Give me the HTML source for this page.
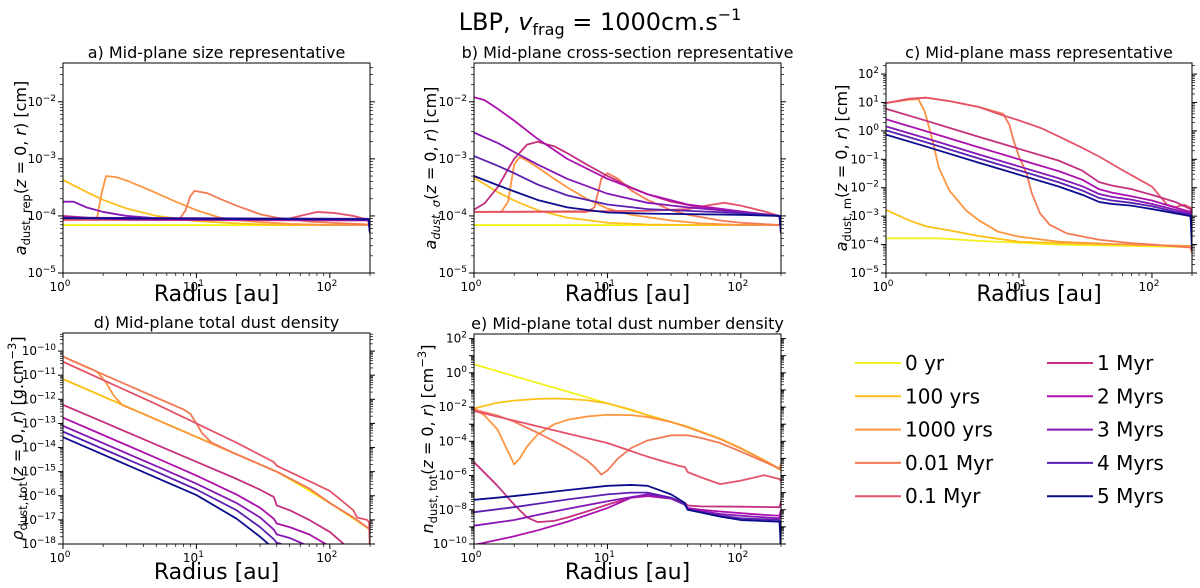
<!DOCTYPE html>
<html><head><meta charset="utf-8"><style>
html,body{margin:0;padding:0;background:#fff;}
svg{display:block;font-family:"DejaVu Sans","Liberation Sans",sans-serif;}
</style></head><body>
<svg id="fig" width="1200" height="588" viewBox="0 0 1200 588" xmlns="http://www.w3.org/2000/svg">
<text x="600" y="30" text-anchor="middle" font-size="24">LBP, <tspan font-style="italic">v</tspan><tspan font-size="16" dy="5">frag</tspan><tspan dy="-5"> = 1000cm.s</tspan><tspan font-size="16" dy="-10">−1</tspan></text>
</svg>
<script>
// ---- series labels and colours ----
const seriesLabels = ['0 yr','100 yrs','1000 yrs','0.01 Myr','0.1 Myr','1 Myr','2 Myrs','3 Myrs','4 Myrs','5 Myrs'];
const seriesColors = ['#f2f01e','#fcc01c','#fd9640','#f27a55','#e4536a','#c4307f','#ac10ad','#8616b5','#5a20b0','#0c0c8e'];
// ---- panel a: [radius au, log10 a] ----
const A0=[[1,-4.16],[195,-4.16],[200,-4.2]];
const A1=[[1,-3.37],[1.5,-3.58],[2,-3.72],[3,-3.87],[5,-4.0],[10,-4.09],[20,-4.13],[40,-4.16],[200,-4.16]];
const A2=[[1,-4.05],[1.8,-4.03],[1.95,-3.6],[2.1,-3.3],[2.5,-3.32],[3,-3.38],[4,-3.5],[5,-3.6],[7,-3.75],[10,-3.9],[15,-4.03],[20,-4.07],[30,-4.11],[50,-4.14],[100,-4.16],[200,-4.16]];
const A3=[[1,-4.05],[7.5,-4.05],[8.3,-3.9],[9,-3.65],[9.7,-3.56],[12,-3.6],[15,-3.7],[20,-3.82],[30,-3.97],[40,-4.03],[70,-4.1],[100,-4.12],[200,-4.15]];
const A4=[[1,-4.07],[45,-4.07],[60,-4.0],[80,-3.93],[110,-3.95],[150,-4.0],[195,-4.07],[200,-4.3]];
const A5=[[1,-4.0],[2,-4.05],[5,-4.07],[195,-4.08],[200,-4.3]];
const A6=[[1,-4.02],[3,-4.06],[195,-4.07],[200,-4.3]];
const A7=[[1,-3.75],[1.2,-3.75],[1.5,-3.85],[2,-3.93],[3,-4.0],[5,-4.04],[10,-4.05],[195,-4.07],[200,-4.3]];
const A8=[[1,-4.03],[195,-4.05],[200,-4.3]];
const A9=[[1,-4.04],[195,-4.06],[200,-4.3]];
// ---- panel b ----
const B0=[[1,-4.16],[200,-4.16]];
const B1=[[1,-3.33],[1.5,-3.58],[2,-3.73],[3,-3.9],[5,-4.03],[10,-4.12],[20,-4.15],[40,-4.16],[200,-4.16]];
const B2=[[1,-3.93],[1.6,-3.93],[1.8,-3.75],[2,-3.1],[2.2,-2.97],[2.5,-3.03],[3,-3.15],[4,-3.35],[5,-3.5],[7,-3.7],[10,-3.87],[15,-3.98],[20,-4.02],[30,-4.08],[50,-4.13],[100,-4.16],[200,-4.16]];
const B3=[[1,-3.93],[7,-3.93],[8,-3.85],[9,-3.35],[10,-3.25],[12,-3.35],[15,-3.55],[20,-3.72],[30,-3.9],[40,-3.98],[70,-4.08],[100,-4.12],[200,-4.16]];
const B4=[[1,-3.93],[20,-3.91],[40,-3.88],[55,-3.82],[75,-3.77],[100,-3.82],[150,-3.92],[195,-4.0],[200,-4.3]];
const B5=[[1,-3.89],[1.2,-3.78],[1.5,-3.5],[2,-3.0],[2.5,-2.75],[3,-2.7],[4,-2.78],[5,-2.9],[7,-3.1],[10,-3.3],[15,-3.5],[20,-3.62],[30,-3.75],[50,-3.85],[100,-3.94],[195,-4.0],[200,-4.3]];
const B6=[[1,-1.92],[1.2,-1.97],[1.5,-2.12],[2,-2.33],[3,-2.65],[5,-3.0],[10,-3.35],[20,-3.62],[40,-3.8],[100,-3.92],[195,-4.0],[200,-4.3]];
const B7=[[1,-2.54],[1.5,-2.72],[2,-2.88],[3,-3.1],[5,-3.35],[10,-3.61],[20,-3.77],[40,-3.85],[100,-3.93],[195,-4.0],[200,-4.3]];
const B8=[[1,-2.95],[1.5,-3.12],[2,-3.25],[3,-3.45],[5,-3.64],[10,-3.8],[20,-3.88],[50,-3.92],[100,-3.95],[195,-4.0],[200,-4.3]];
const B9=[[1,-3.3],[1.5,-3.46],[2,-3.57],[3,-3.72],[5,-3.85],[10,-3.94],[20,-3.96],[100,-3.98],[195,-4.0],[200,-4.3]];
// ---- panel c ----
const C0=[[1,-3.78],[2.5,-3.78],[5,-3.87],[20,-4.0],[195,-4.09],[200,-4.3]];
const C1=[[1,-2.78],[1.5,-3.15],[2,-3.36],[3,-3.5],[5,-3.7],[10,-3.9],[30,-3.97],[195,-4.05],[200,-4.3]];
const C2=[[1,0.98],[1.5,1.1],[1.75,1.12],[1.95,0.7],[2.2,-0.2],[2.5,-1.3],[3,-2.1],[4,-2.8],[5,-3.15],[7,-3.55],[10,-3.72],[20,-3.9],[50,-3.98],[100,-4.02],[195,-4.05],[200,-4.3]];
const C3=[[1,0.98],[1.5,1.13],[2,1.17],[3,1.05],[5,0.84],[7.6,0.6],[8.5,0.2],[9.1,-0.33],[10,-0.9],[11.4,-1.5],[12.5,-2.2],[14.4,-2.9],[17,-3.3],[22.7,-3.6],[40,-3.83],[70,-3.95],[100,-4.0],[195,-4.1],[200,-4.3]];
const C4=[[1,0.98],[1.5,1.13],[2,1.17],[3,1.05],[5,0.84],[7,0.6],[10,0.37],[15,0.08],[20,-0.2],[30,-0.6],[40,-0.9],[60,-1.38],[100,-1.96],[130,-2.6],[150,-2.68],[175,-2.6],[195,-2.7],[200,-3.3]];
const C5=[[1,0.78],[2,0.36],[5,-0.21],[10,-0.63],[20,-1.05],[30,-1.4],[40,-1.8],[50,-1.92],[70,-2.05],[100,-2.25],[150,-2.5],[195,-2.75],[200,-3.5]];
const C6=[[1,0.41],[2,-0.01],[5,-0.58],[10,-1.0],[20,-1.42],[30,-1.72],[40,-2.05],[50,-2.17],[70,-2.3],[100,-2.45],[150,-2.7],[195,-2.85],[200,-3.6]];
const C7=[[1,0.16],[2,-0.26],[5,-0.83],[10,-1.25],[20,-1.67],[30,-1.95],[40,-2.22],[50,-2.32],[70,-2.42],[100,-2.57],[150,-2.78],[195,-2.9],[200,-3.7]];
const C8=[[1,0.02],[2,-0.4],[5,-0.97],[10,-1.39],[20,-1.81],[30,-2.1],[40,-2.36],[50,-2.45],[70,-2.53],[100,-2.65],[150,-2.85],[195,-2.95],[200,-3.8]];
const C9=[[1,-0.13],[2,-0.55],[5,-1.12],[10,-1.54],[20,-1.96],[30,-2.25],[40,-2.5],[50,-2.57],[70,-2.63],[100,-2.75],[150,-2.9],[195,-3.0],[200,-4.2]];
// ---- panel d ----
const D0=[[1,-11.16],[40,-15.0],[100,-16.3],[200,-17.4]];
const D1=[[1,-11.16],[2,-11.88],[5,-12.84],[10,-13.56],[20,-14.28],[40,-15.0],[70,-15.7],[100,-16.3],[150,-16.9],[200,-17.4]];
const D2=[[1,-10.23],[1.5,-10.66],[1.8,-10.86],[2.1,-11.3],[2.4,-11.85],[2.8,-12.25],[4,-12.6],[5,-12.84],[10,-13.56],[20,-14.28],[40,-15.0],[70,-15.7],[100,-16.3],[150,-16.9],[200,-17.4]];
const D3=[[1,-10.23],[2,-10.97],[5,-11.93],[8,-12.42],[9,-12.6],[10,-13.0],[11,-13.4],[13,-13.8],[20,-14.28],[40,-15.0],[70,-15.7],[100,-16.3],[150,-16.9],[195,-17.35],[200,-17.4]];
const D4=[[1,-10.44],[2,-11.2],[5,-12.2],[10,-13.0],[20,-13.8],[38,-14.6],[40,-14.75],[100,-15.8],[150,-16.6],[160,-16.9],[190,-17.0],[197,-17.1],[200,-18.5]];
const D5=[[1,-12.23],[2,-12.94],[5,-13.88],[10,-14.59],[20,-15.3],[30,-15.75],[38,-16.05],[40,-16.4],[50,-16.6],[70,-17.0],[100,-17.5],[140,-18.2]];
const D6=[[1,-12.76],[2,-13.48],[5,-14.43],[10,-15.16],[20,-15.95],[30,-16.5],[38,-16.95],[40,-17.15],[50,-17.3],[70,-17.6],[100,-18.1]];
const D7=[[1,-13.1],[2,-13.82],[5,-14.77],[10,-15.5],[20,-16.3],[30,-16.9],[38,-17.4],[40,-17.6],[50,-17.75],[70,-18.1]];
const D8=[[1,-13.34],[2,-14.06],[5,-15.0],[10,-15.74],[20,-16.6],[30,-17.3],[38,-17.8],[40,-17.95],[50,-18.1]];
const D9=[[1,-13.57],[2,-14.29],[5,-15.25],[10,-15.97],[20,-16.95],[30,-17.7],[40,-18.3]];
// ---- panel e ----
const E0=[[1,0.5],[2,-0.19],[5,-1.09],[10,-1.78],[20,-2.47],[40,-3.15],[70,-3.85],[100,-4.4],[150,-5.1],[200,-5.7]];
const E1=[[1,-2.08],[1.5,-1.75],[2,-1.62],[3,-1.52],[4,-1.5],[5,-1.52],[7,-1.6],[10,-1.78],[15,-2.15],[20,-2.47],[40,-3.15],[70,-3.85],[100,-4.4],[150,-5.1],[195,-5.6],[200,-5.4]];
const E2=[[1,-2.04],[1.2,-2.5],[1.5,-3.3],[1.8,-4.6],[2,-5.35],[2.2,-5.0],[2.5,-4.3],[3,-3.6],[4,-3.0],[5,-2.75],[7,-2.55],[10,-2.45],[15,-2.47],[20,-2.58],[30,-2.87],[40,-3.18],[70,-3.87],[100,-4.42],[150,-5.12],[195,-5.62],[200,-5.3]];
const E3=[[1,-2.14],[1.5,-2.5],[2,-2.85],[3,-3.5],[4,-4.0],[5,-4.4],[7,-5.1],[8,-5.5],[9,-5.95],[10,-5.7],[12,-5.0],[15,-4.4],[20,-3.95],[30,-3.65],[40,-3.65],[50,-3.8],[70,-4.1],[100,-4.6],[150,-5.2],[195,-5.6],[200,-5.5]];
const E4=[[1,-2.23],[2,-2.79],[5,-3.54],[10,-4.1],[20,-4.9],[35,-5.45],[38,-5.5],[40,-5.8],[50,-6.1],[70,-6.5],[100,-6.3],[150,-5.98],[195,-6.2],[200,-6.35]];
const E5=[[1,-5.22],[1.5,-6.6],[2,-7.7],[2.5,-8.45],[3,-8.72],[4,-8.65],[5,-8.45],[7,-8.1],[10,-7.7],[15,-7.3],[20,-7.15],[30,-7.3],[38,-7.6],[40,-7.75],[50,-7.8],[100,-7.82],[195,-7.85],[200,-7.5]];
const E6=[[1,-10.05],[2,-9.55],[3,-9.2],[5,-8.7],[10,-7.9],[15,-7.3],[20,-7.2],[30,-7.35],[38,-7.7],[40,-7.9],[50,-8.0],[70,-8.1],[100,-8.2],[150,-8.3],[195,-8.35],[200,-8.0]];
const E7=[[1,-8.93],[2,-8.6],[3,-8.3],[5,-7.95],[10,-7.5],[20,-7.1],[30,-7.3],[38,-7.7],[40,-7.95],[70,-8.25],[100,-8.35],[195,-8.5],[200,-8.2]];
const E8=[[1,-8.14],[2,-7.85],[3,-7.65],[5,-7.4],[10,-7.1],[15,-7.0],[20,-7.0],[30,-7.3],[38,-7.7],[40,-8.0],[70,-8.35],[100,-8.5],[195,-8.6],[200,-9.0]];
const E9=[[1,-7.42],[2,-7.2],[3,-7.05],[5,-6.85],[10,-6.6],[15,-6.55],[20,-6.6],[30,-7.1],[38,-7.6],[40,-8.0],[70,-8.4],[100,-8.6],[195,-8.7],[200,-10.5]];
// ---- tick exponents ----
const ticksAB=[-5,-4,-3,-2];
const ticksC=[-5,-4,-3,-2,-1,0,1,2];
const ticksD=[-18,-17,-16,-15,-14,-13,-12,-11,-10];
const ticksE=[-10,-8,-6,-4,-2,0,2];
const xTicks=[0,1,2];

const NS='http://www.w3.org/2000/svg';
const svg=document.getElementById('fig');
function mk(tag,attrs,parent){const e=document.createElementNS(NS,tag);for(const k in attrs)e.setAttribute(k,attrs[k]);(parent||svg).appendChild(e);return e;}

const panels=[
 {key:'a',L:63,R:370,T:63,B:273,ymin:-5,ymax:-1.32,ticks:ticksAB,series:[A0,A1,A2,A3,A4,A5,A6,A7,A8,A9],title:'a) Mid-plane size representative',ylx:20,
  ylab:[['a',{'font-style':'italic'}],['dust, rep',{sub:1}],['(',{}],['z',{'font-style':'italic'}],[' = 0, ',{}],['r',{'font-style':'italic'}],[') [cm]',{}]]},
 {key:'b',L:474,R:781,T:63,B:273,ymin:-5,ymax:-1.32,ticks:ticksAB,series:[B0,B1,B2,B3,B4,B5,B6,B7,B8,B9],title:'b) Mid-plane cross-section representative',ylx:430,
  ylab:[['a',{'font-style':'italic'}],['dust, σ',{sub:1,'font-style':'italic'}],['(',{}],['z',{'font-style':'italic'}],[' = 0, ',{}],['r',{'font-style':'italic'}],[') [cm]',{}]]},
 {key:'c',L:886,R:1192,T:63,B:273,ymin:-5,ymax:2.39,ticks:ticksC,series:[C0,C1,C2,C3,C4,C5,C6,C7,C8,C9],title:'c) Mid-plane mass representative',ylx:841,
  ylab:[['a',{'font-style':'italic'}],['dust, m',{sub:1}],['(',{}],['z',{'font-style':'italic'}],[' = 0, ',{}],['r',{'font-style':'italic'}],[') [cm]',{}]]},
 {key:'d',L:63,R:370,T:333,B:544,ymin:-18,ymax:-9.25,ticks:ticksD,series:[D0,D1,D2,D3,D4,D5,D6,D7,D8,D9],title:'d) Mid-plane total dust density',ylx:17,
  ylab:[['ρ',{'font-style':'italic'}],['dust, tot',{sub:1}],['(',{}],['z',{'font-style':'italic'}],[' = 0, ',{}],['r',{'font-style':'italic'}],[') [g.cm',{}],['−3',{sup:1}],[']',{}]]},
 {key:'e',L:474,R:781,T:334,B:544,ymin:-10,ymax:2.27,ticks:ticksE,series:[E0,E1,E2,E3,E4,E5,E6,E7,E8,E9],title:'e) Mid-plane total dust number density',ylx:427,
  ylab:[['n',{'font-style':'italic'}],['dust, tot',{sub:1}],['(',{}],['z',{'font-style':'italic'}],[' = 0, ',{}],['r',{'font-style':'italic'}],[') [cm',{}],['−3',{sup:1}],[']',{}]]}
];
const XMAX=Math.log10(200);

panels.forEach(p=>{
  const g=mk('g',{});
  
  
  const xs=r=>p.L+(Math.log10(r)/XMAX)*(p.R-p.L);
  const xl=l=>p.L+(l/XMAX)*(p.R-p.L);
  const ys=l=>p.B-(l-p.ymin)/(p.ymax-p.ymin)*(p.B-p.T);
  const cid='clip-'+p.key;
  const cp=mk('clipPath',{id:cid},g);
  mk('rect',{x:p.L,y:p.T,width:p.R-p.L,height:p.B-p.T},cp);
  const sg=mk('g',{'clip-path':'url(#'+cid+')'},g);
  p.series.forEach((s,i)=>{
    const d=s.map((pt,j)=>(j?'L':'M')+xs(pt[0]).toFixed(2)+','+ys(pt[1]).toFixed(2)).join('');
    const path=mk('path',{d:d,fill:'none',stroke:seriesColors[i],'stroke-width':1.8,'stroke-linejoin':'round'},sg);
    
    
  });
  const fr=mk('rect',{x:p.L,y:p.T,width:p.R-p.L,height:p.B-p.T,fill:'none',stroke:'#000','stroke-width':1},g);
  
  
  const lo=Math.floor(p.ymin), hi=Math.ceil(p.ymax);
  for(let e=lo;e<=hi;e++){
    for(let m=1;m<10;m++){
      const l=e+Math.log10(m);
      if(l<p.ymin-1e-6||l>p.ymax+1e-6)continue;
      const y=ys(l);
      const major=(m===1);
      const len=major?5:3;
      mk('line',{x1:p.L-len,x2:p.L,y1:y,y2:y,stroke:'#000','stroke-width':major?1:0.7},g);
      mk('line',{x1:p.R,x2:p.R+len,y1:y,y2:y,stroke:'#000','stroke-width':major?1:0.7},g);
    }
  }
  p.ticks.forEach(t=>{
    const y=ys(t);
    const tx=mk('text',{x:p.L-7,y:y+4,'text-anchor':'end','font-size':12},g);
    
    
    tx.appendChild(document.createTextNode('10'));
    const sp=mk('tspan',{'font-size':9,dy:-5},tx);
    sp.textContent=(t<0?'−'+(-t):String(t));
  });
  for(let e=0;e<=2;e++){
    for(let m=1;m<10;m++){
      const l=e+Math.log10(m);
      if(l>XMAX+1e-6)continue;
      const x=xl(l);
      const major=(m===1);
      mk('line',{x1:x,x2:x,y1:p.B,y2:p.B+(major?5:3),stroke:'#000','stroke-width':major?1:0.7},g);
    }
  }
  xTicks.forEach(t=>{
    const tx=mk('text',{x:xl(t)-3,y:p.B+18,'text-anchor':'middle','font-size':12},g);
    
    
    tx.appendChild(document.createTextNode('10'));
    const sp=mk('tspan',{'font-size':9,dy:-5},tx);
    sp.textContent=String(t);
  });
  const xlab=mk('text',{x:(p.L+p.R)/2,y:p.B+28+(p.T<100?0:7),'text-anchor':'middle','font-size':22},g);
  
  
  xlab.textContent='Radius [au]';
  const tt=mk('text',{x:(p.L+p.R)/2,y:p.T-5,'text-anchor':'middle','font-size':16},g);
  
  
  tt.textContent=p.title;
  const cy=(p.T+p.B)/2;
  const yl=mk('text',{x:0,y:0,'text-anchor':'middle','font-size':16,transform:'translate('+(p.ylx+6)+','+cy+') rotate(-90)'},g);
  
  
  let shift=0;
  p.ylab.forEach(([txt,o])=>{
    const a={};
    if(o['font-style'])a['font-style']=o['font-style'];
    let target=0;
    if(o.sub){a['font-size']=11.5;target=4;}
    else if(o.sup){a['font-size']=11.5;target=-7;}
    a.dy=target-shift; shift=target;
    const ts=mk('tspan',a,yl);
    ts.textContent=txt;
  });
});

const legend=mk('g',{});


seriesLabels.forEach((lab,i)=>{
  const col=i<5?0:1, row=i%5;
  const x0=col?1047:855, y0=363+row*33.3;
  const eg=mk('g',{},legend);
  
  
  mk('line',{x1:x0,x2:x0+46,y1:y0,y2:y0,stroke:seriesColors[i],'stroke-width':2},eg);
  const t=mk('text',{x:x0+50,y:y0+7,'font-size':20},eg);
  t.textContent=lab;
});
</script>
</body></html>
